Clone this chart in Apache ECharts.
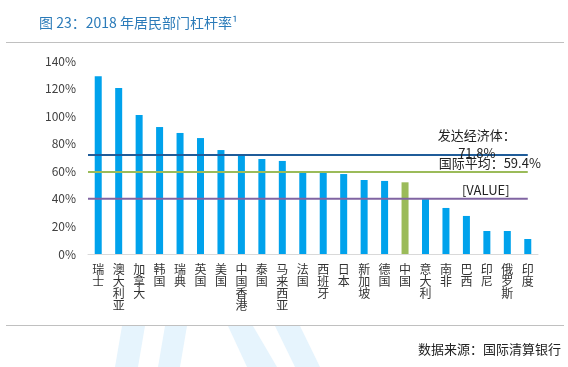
<!DOCTYPE html>
<html><head><meta charset="utf-8">
<script src="https://cdn.jsdelivr.net/npm/echarts@6/dist/echarts.min.js"></script>
<style>html,body{margin:0;padding:0;background:#fff}#c{width:568px;height:367px}</style>
</head><body><div id="c"></div>
<script>
const categories = ['瑞士','澳大利亚','加拿大','韩国','瑞典','英国','美国','中国香港','泰国','马来西亚','法国','西班牙','日本','新加坡','德国','中国','意大利','南非','巴西','印尼','俄罗斯','印度'];
const values = [129.0,120.4,100.8,92.1,87.8,84.1,75.4,71.8,68.9,67.5,59.5,59.0,58.0,53.7,53.0,52.0,40.6,33.4,27.6,16.7,16.7,10.9];
const highlight = '中国';
const refLabels = ['发达经济体：\n71.8%','国际平均：59.4%','[VALUE]'];
const refValues = [71.8, 59.4, 40];
const refColors = ['#1f5c99','#9bbb59','#8064a2'];
const labelOffsets = [[-51, 12],[-38, 5],[-42, 5]];
const yMin = 0, yMax = 140, yStep = 20;

const FONT = '"Noto Sans CJK SC","Noto Sans",sans-serif';
const chart = echarts.init(document.getElementById('c'), null, {renderer:'canvas'});
const n = categories.length;

const refSeries = refValues.map((v, i) => ({
  type: 'line',
  xAxisIndex: 1,
  yAxisIndex: 0,
  symbol: 'circle',
  symbolSize: 0,
  showSymbol: true,
  silent: true,
  lineStyle: {color: refColors[i], width: 2},
  itemStyle: {color: refColors[i]},
  labelLayout: {hideOverlap: false, dx: labelOffsets[i][0], dy: labelOffsets[i][1]},
  data: [
    [-0.5, v],
    {value: [n - 1, v], label: {show: true, position: 'top',
      formatter: refLabels[i], color: '#222', fontSize: 13, lineHeight: 18, fontFamily: FONT, align: 'center'}}
  ],
  z: 3
}));

const option = {
  animation: false,
  backgroundColor: '#fff',
  textStyle: {fontFamily: FONT},
  title: {
    text: '图 23：2018 年居民部门杠杆率¹',
    left: 34, top: 11,
    textStyle: {color: '#2b7bb9', fontSize: 14, fontWeight: 'normal', fontFamily: FONT}
  },
  graphic: [
    {type: 'line', shape: {x1: 6, y1: 42.5, x2: 564, y2: 42.5}, style: {stroke: '#c0c0c0', lineWidth: 1}},
    {type: 'line', shape: {x1: 6, y1: 325.5, x2: 564, y2: 325.5}, style: {stroke: '#c0c0c0', lineWidth: 1}},
    {type: 'polygon', z: -10, shape: {points: [[122,326],[145,326],[138,367],[115,367]]}, style: {fill: '#e6f4fd'}},
    {type: 'polygon', z: -10, shape: {points: [[165,326],[187,326],[180,367],[158,367]]}, style: {fill: '#e6f4fd'}},
    {type: 'polygon', z: -10, shape: {points: [[228,326],[253,326],[277,367],[247,367]]}, style: {fill: '#e6f4fd'}},
    {type: 'polygon', z: -10, shape: {points: [[275,326],[300,326],[320,367],[295,367]]}, style: {fill: '#e6f4fd'}},
    {type: 'text', right: 7, top: 343, style: {text: '数据来源：国际清算银行', fill: '#222', fontSize: 13, fontFamily: FONT}}
  ],
  grid: {left: 88, right: 30, top: 61, bottom: 113, containLabel: false},
  xAxis: [
    {
      type: 'category', data: categories,
      axisLine: {lineStyle: {color: '#d9d9d9'}},
      axisTick: {show: false},
      axisLabel: {
        interval: 0, color: '#333', fontSize: 12, lineHeight: 12, margin: 9, fontFamily: FONT,
        formatter: s => s.split('').join('\n'), verticalAlign: 'top'
      }
    },
    {type: 'value', min: -0.5, max: n - 0.5, show: false}
  ],
  yAxis: {
    type: 'value', min: yMin, max: yMax, interval: yStep,
    axisLine: {show: false}, axisTick: {show: false},
    splitLine: {show: false},
    axisLabel: {formatter: '{value}%', color: '#404040', fontSize: 12, margin: 12, fontFamily: FONT}
  },
  series: [
    {
      type: 'bar', xAxisIndex: 0, barWidth: 7, z: 2,
      data: categories.map((c, i) => ({value: values[i], itemStyle: {color: c === highlight ? '#9bbb59' : '#00a2ec'}}))
    },
    ...refSeries
  ]
};
chart.setOption(option);
</script>
</body></html>
